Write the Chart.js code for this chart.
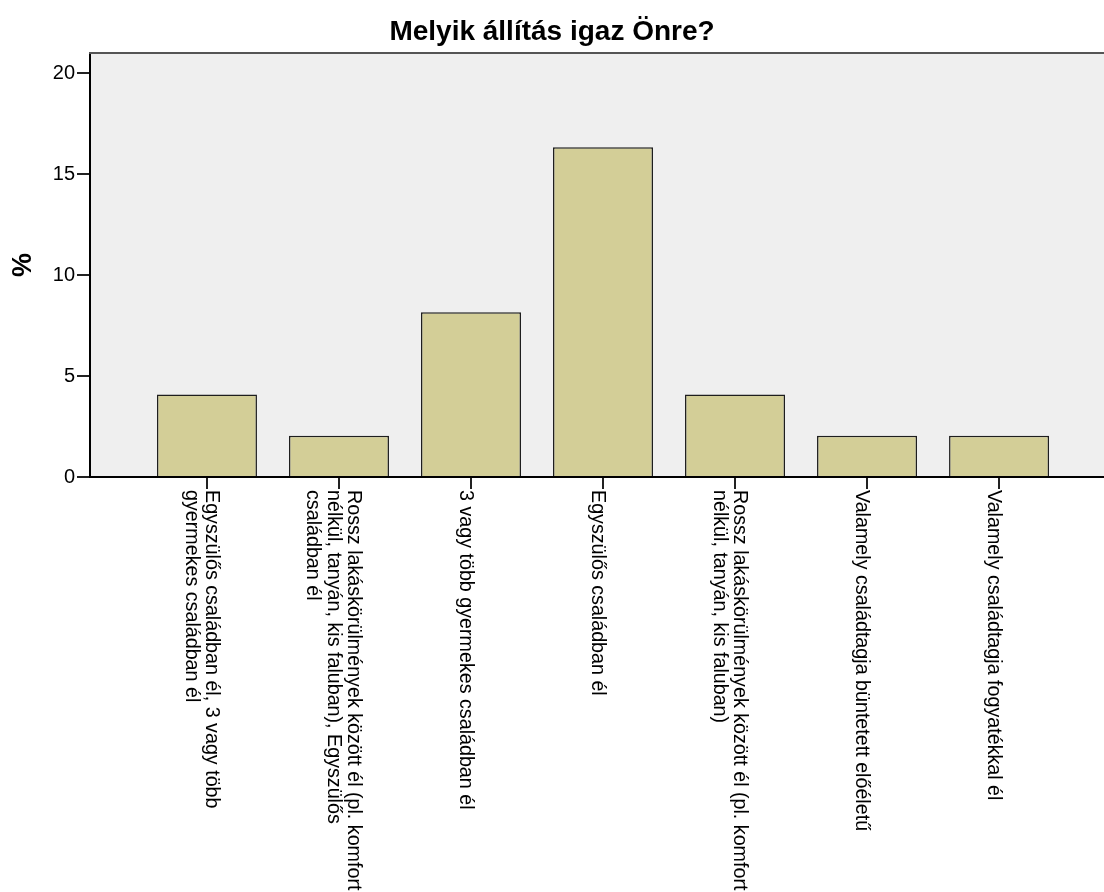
<!DOCTYPE html>
<html>
<head>
<meta charset="utf-8">
<title>Melyik állítás igaz Önre?</title>
<script src="https://cdn.jsdelivr.net/npm/chart.js@4.4.1/dist/chart.umd.min.js"></script>
<style>
  html, body { margin: 0; padding: 0; background: #fff; }
</style>
</head>
<body>
<canvas id="myChart" width="1104" height="892"></canvas>
<script>
// Category labels, split into the lines shown under the axis
const categories = [
  ['Egyszülős családban él, 3 vagy több', 'gyermekes családban él'],
  ['Rossz lakáskörülmények között él (pl. komfort', 'nélkül, tanyán, kis faluban), Egyszülős', 'családban él'],
  ['3 vagy több gyermekes családban él'],
  ['Egyszülős családban él'],
  ['Rossz lakáskörülmények között él (pl. komfort', 'nélkül, tanyán, kis faluban)'],
  ['Valamely családtagja büntetett előéletű'],
  ['Valamely családtagja fogyatékkal él']
];
const percents = [4.08, 2.04, 8.16, 16.33, 4.08, 2.04, 2.04];
const yTicks = [0, 5, 10, 15, 20];
const chartTitle = 'Melyik állítás igaz Önre?';
const yTitle = '%';

const FONT = '"Liberation Sans", Arial, sans-serif';

// grey plot background + top frame line
const plotBg = {
  id: 'plotBg',
  beforeDraw(chart) {
    const { ctx, chartArea: a } = chart;
    ctx.save();
    ctx.fillStyle = '#efefef';
    ctx.fillRect(a.left, a.top, a.right - a.left, a.bottom - a.top);
    ctx.restore();
  },
  afterDraw(chart) {
    const { ctx, chartArea: a } = chart;
    ctx.save();
    ctx.strokeStyle = '#555';
    ctx.lineWidth = 2;
    ctx.beginPath();
    ctx.moveTo(a.left - 1, a.top);
    ctx.lineTo(a.right, a.top);
    ctx.stroke();
    ctx.restore();
  }
};

// x labels rotated clockwise (read top to bottom), like the SPSS output
const rotatedLabels = {
  id: 'rotatedLabels',
  afterDraw(chart) {
    const { ctx } = chart;
    const xs = chart.scales.x;
    ctx.save();
    ctx.font = '19.7px ' + FONT;
    ctx.fillStyle = '#000';
    ctx.textAlign = 'left';
    ctx.textBaseline = 'alphabetic';
    categories.forEach((lines, i) => {
      const px = xs.getPixelForValue(i);
      ctx.save();
      ctx.translate(px, xs.top + 13);
      ctx.rotate(Math.PI / 2);
      lines.forEach((line, k) => {
        const off = 11 - ((lines.length - 1) / 2 - k) * 20.5;
        ctx.fillText(line, 0, off);
      });
      ctx.restore();
    });
    ctx.restore();
  }
};

const ctx = document.getElementById('myChart').getContext('2d');
new Chart(ctx, {
  type: 'bar',
  data: {
    datasets: [{
      data: percents.map((v, i) => ({ x: i, y: v })),
      backgroundColor: '#d3ce97',
      borderColor: '#1e1e1e',
      borderWidth: 1.5,
      barPercentage: 1,
      categoryPercentage: 100 / 132
    }]
  },
  options: {
    responsive: false,
    animation: false,
    layout: { padding: 0 },
    plugins: {
      legend: { display: false },
      tooltip: { enabled: false },
      title: {
        display: true,
        text: chartTitle,
        color: '#000',
        font: { family: FONT, size: 28, weight: 'bold' },
        padding: { top: 15, bottom: 4.4 }
      }
    },
    scales: {
      x: {
        type: 'linear',
        min: -0.886,
        max: 6.795,
        offset: false,
        grid: { offset: false, drawOnChartArea: false, drawTicks: true, tickLength: 12, color: '#222', lineWidth: 2 },
        border: { display: true, color: '#000', width: 2 },
        ticks: { display: false },
        afterBuildTicks: s => { s.ticks = categories.map((c, i) => ({ value: i })); },
        afterFit: s => { s.height = 415; }
      },
      y: {
        min: 0,
        max: 21,
        grid: { drawOnChartArea: false, drawTicks: true, tickLength: 13, color: '#222', lineWidth: 2 },
        border: { display: true, color: '#000', width: 2 },
        ticks: { font: { family: FONT, size: 20 }, color: '#000', padding: 2 },
        afterBuildTicks: s => { s.ticks = yTicks.map(v => ({ value: v })); },
        afterFit: s => { s.width = 90; },
        title: {
          display: true,
          text: yTitle,
          color: '#000',
          font: { family: FONT, size: 27, weight: 'bold' },
          padding: { top: 7, bottom: 0 }
        }
      }
    }
  },
  plugins: [plotBg, rotatedLabels]
});
</script>
</body>
</html>
